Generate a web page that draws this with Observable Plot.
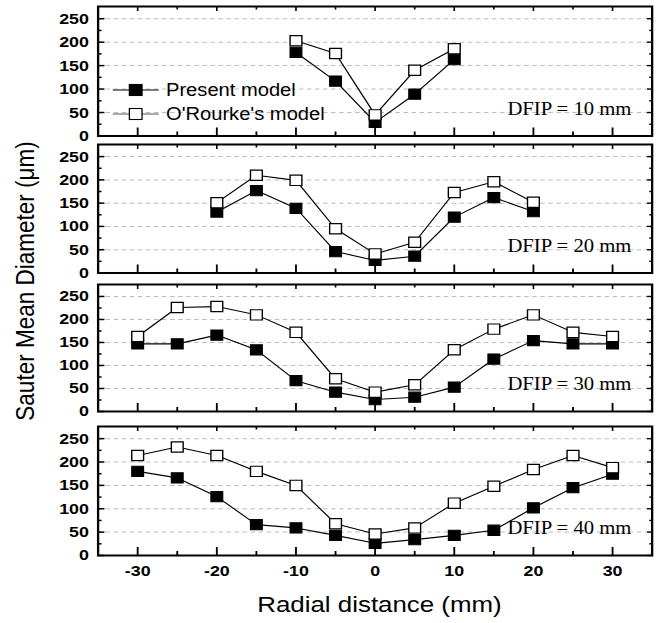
<!DOCTYPE html>
<html>
<head>
<meta charset="utf-8">
<script src="https://cdn.jsdelivr.net/npm/d3@7"></script>
<script src="https://cdn.jsdelivr.net/npm/@observablehq/plot@0.6"></script>
<style>
html,body{margin:0;padding:0;background:#fff;}
#wrap{position:relative;width:664px;height:623px;overflow:hidden;background:#fff;}
#stage{position:absolute;left:0;top:0;height:623px;transform-origin:0 0;font-family:"Liberation Sans",Arial,sans-serif;color:#000;}
.panel{position:absolute;left:0;}
.abs{position:absolute;white-space:nowrap;}
</style>
</head>
<body>
<div id="wrap"><div id="stage"></div></div>
<script>
// ---------- data ----------
const panelNames = ["DFIP = 10 mm", "DFIP = 20 mm", "DFIP = 30 mm", "DFIP = 40 mm"];
const legendLabels = ["Present model", "O'Rourke's model"];
const xTitle = "Radial distance (mm)";
const yTitle = "Sauter Mean Diameter (\u03bcm)";

const xTicks = [-30, -20, -10, 0, 10, 20, 30];
const xMinorTicks = [-25, -15, -5, 5, 15, 25];
const yTicks = [0, 50, 100, 150, 200, 250];
const yMinorTicks = [25, 75, 125, 175, 225];
const yGrid = [50, 100, 150, 200, 250];

const x10 = [-10, -5, 0, 5, 10];
const present10 = [178, 117, 29, 89, 163];
const orourke10 = [203, 176, 45, 140, 186];

const x20 = [-20, -15, -10, -5, 0, 5, 10, 15, 20];
const present20 = [131, 177, 139, 46, 27, 36, 120, 162, 132];
const orourke20 = [151, 210, 199, 95, 41, 66, 173, 196, 152];

const x30 = [-30, -25, -20, -15, -10, -5, 0, 5, 10, 15, 20, 25, 30];
const present30 = [147, 147, 166, 134, 67, 42, 26, 31, 53, 114, 154, 147, 147];
const orourke30 = [163, 226, 228, 210, 172, 71, 42, 58, 134, 179, 210, 172, 163];

const x40 = [-30, -25, -20, -15, -10, -5, 0, 5, 10, 15, 20, 25, 30];
const present40 = [180, 166, 126, 66, 59, 43, 26, 34, 43, 54, 102, 145, 174];
const orourke40 = [214, 232, 214, 180, 150, 68, 46, 59, 112, 148, 184, 214, 188];

// ---------- layout ----------
const S = 1.15;                 // horizontal stretch of the reference
const W = 664 / S;
const frameLeft = 97.5 / S, frameRight = 651.6 / S;
const panelTop = [6, 144, 284, 426];
const panelBottom = [135.5, 272.5, 411, 555];
const FONT = "'Liberation Sans', Arial, sans-serif";
const hyphenFormat = d => String(d);

const stage = document.getElementById("stage");
stage.style.width = W + "px";
stage.style.transform = `scaleX(${S})`;

const series = [
  [x10, present10, orourke10],
  [x20, present20, orourke20],
  [x30, present30, orourke30],
  [x40, present40, orourke40]
];

series.forEach(([xs, pres, orou], i) => {
  const last = i === series.length - 1;
  const rows = xs.map((x, j) => ({x, present: pres[j], orourke: orou[j]}));
  const h = panelBottom[i] - panelTop[i];
  const mb = last ? 623 - panelBottom[i] : 0;
  const marks = [
    Plot.ruleY(yGrid, {stroke: "#bdbdbd", strokeDasharray: "4,3", strokeWidth: 1}),
    Plot.axisY({ticks: yTicks, tickSize: -6, fill: null, label: null, strokeWidth: 1.5}),
    Plot.axisY({ticks: yMinorTicks, tickSize: -3.5, fill: null, label: null, strokeWidth: 1.5}),
    Plot.axisY({anchor: "right", ticks: yTicks, tickSize: -5, fill: null, label: null, strokeWidth: 1.4}),
    Plot.axisY({anchor: "right", ticks: yMinorTicks, tickSize: -3, fill: null, label: null, strokeWidth: 1.4}),
    Plot.axisX({ticks: xTicks, tickSize: -8, fill: null, label: null, strokeWidth: 1.6}),
    Plot.axisX({ticks: xMinorTicks, tickSize: -4, fill: null, label: null, strokeWidth: 1.6}),
    Plot.axisX({anchor: "top", ticks: xTicks, tickSize: -4, fill: null, label: null, strokeWidth: 1.4}),
    Plot.axisX({anchor: "top", ticks: xMinorTicks, tickSize: -2.5, fill: null, label: null, strokeWidth: 1.4}),
    Plot.axisY({ticks: yTicks, tickSize: 0, tickPadding: 8, label: null, tickFormat: hyphenFormat,
      fontSize: 15.5, fontWeight: "bold", fontFamily: FONT}),
    Plot.lineY(rows, {x: "x", y: "present", stroke: "black", strokeWidth: 1.1}),
    Plot.lineY(rows, {x: "x", y: "orourke", stroke: "black", strokeWidth: 1.1}),
    Plot.dot(rows, {x: "x", y: "present", symbol: "square", r: 5.8, fill: "black", stroke: "black", strokeWidth: 1}),
    Plot.dot(rows, {x: "x", y: "orourke", symbol: "square", r: 5.8, fill: "white", stroke: "black", strokeWidth: 1.2}),
    Plot.text([panelNames[i]], {text: d => d, frameAnchor: "bottom-right", dx: -18, dy: -21, textAnchor: "end",
      fontFamily: "'Liberation Serif', 'Times New Roman', serif", fontSize: 18}),
    Plot.frame({stroke: "black", strokeWidth: 2})
  ];
  if (last) marks.push(Plot.axisX({ticks: xTicks, tickSize: 0, tickPadding: 10, label: null, tickFormat: hyphenFormat,
    fontSize: 15.5, fontWeight: "bold", fontFamily: FONT}));
  const chart = Plot.plot({
    width: W,
    height: h + mb,
    marginLeft: frameLeft,
    marginRight: W - frameRight,
    marginTop: 0,
    marginBottom: mb,
    x: {domain: [-35, 35], axis: null},
    y: {domain: [0, 276], axis: null},
    style: {overflow: "visible", background: "transparent", fontFamily: FONT, fontSize: "15px", color: "black"},
    marks
  });
  chart.classList.add("panel");
  chart.style.top = panelTop[i] + "px";
  stage.appendChild(chart);
});

// ---------- legend (panel 1) ----------
const legendRows = [90, 113.5];
const legendStyles = [
  {fill: "black", line: "black"},
  {fill: "white", line: "#555"}
];
legendLabels.forEach((label, k) => {
  const cy = legendRows[k];
  const g = document.createElementNS("http://www.w3.org/2000/svg", "svg");
  g.setAttribute("width", 40); g.setAttribute("height", 14);
  g.style.position = "absolute"; g.style.left = (113 / S) + "px"; g.style.top = (cy - 7) + "px";
  g.style.overflow = "visible";
  g.innerHTML = `<line x1="0" x2="40" y1="7" y2="7" stroke="${legendStyles[k].line}" stroke-width="1.2"/>` +
    `<rect x="14.5" y="1.5" width="11" height="11" fill="${legendStyles[k].fill}" stroke="black" stroke-width="1.1"/>`;
  stage.appendChild(g);
  const t = document.createElement("div");
  t.className = "abs";
  t.textContent = label;
  t.style.left = (166 / S) + "px";
  t.style.top = (cy - 11) + "px";
  t.style.fontSize = "17.5px";
  t.style.lineHeight = "22px";
  stage.appendChild(t);
});

// ---------- axis titles ----------
const xt = document.createElement("div");
xt.className = "abs";
xt.textContent = xTitle;
xt.style.left = (330 - 150) + "px";
xt.style.width = "300px";
xt.style.textAlign = "center";
xt.style.top = (605 - 13) + "px";
xt.style.fontSize = "22.5px";
xt.style.lineHeight = "26px";
stage.appendChild(xt);

const yt = document.createElement("div");
yt.className = "abs";
yt.textContent = yTitle;
yt.style.width = "340px";
yt.style.textAlign = "center";
yt.style.left = (26 / S - 170) + "px";
yt.style.top = (281 - 13) + "px";
yt.style.fontSize = "22.5px";
yt.style.lineHeight = "26px";
yt.style.transform = "rotate(-90deg)";
yt.style.transformOrigin = "50% 50%";
stage.appendChild(yt);
</script>
</body>
</html>
